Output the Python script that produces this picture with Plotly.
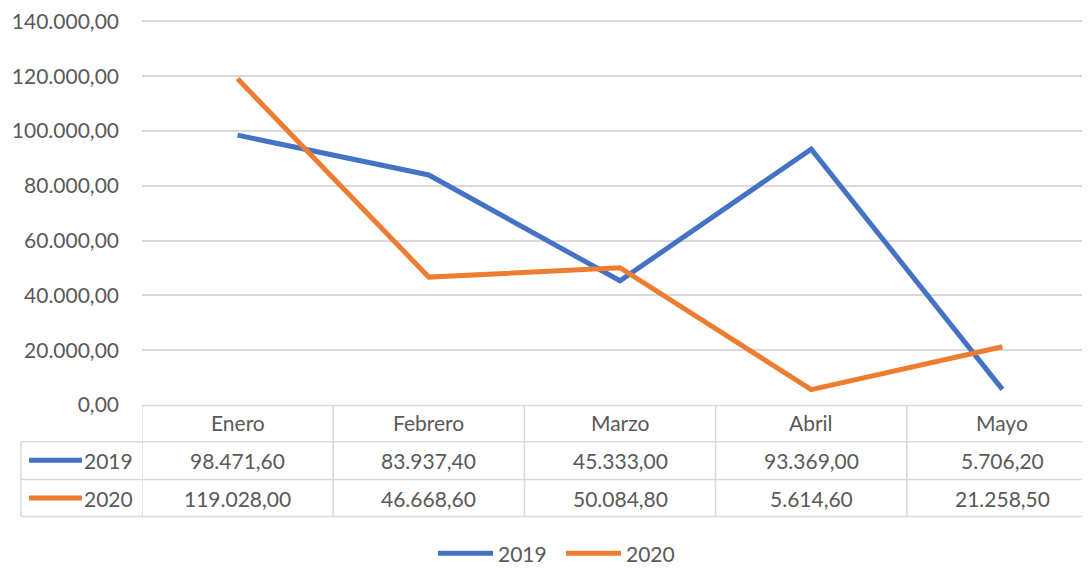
import plotly.graph_objects as go

# Datos (tabla de datos del grafico)
MESES = ["Enero", "Febrero", "Marzo", "Abril", "Mayo"]
SERIES = ["2019", "2020"]
VALORES_2019 = [98471.60, 83937.40, 45333.00, 93369.00, 5706.20]
VALORES_2020 = [119028.00, 46668.60, 50084.80, 5614.60, 21258.50]
Y_TICKS = [0, 20000, 40000, 60000, 80000, 100000, 120000, 140000]

AZUL = "#4472C4"
NARANJA = "#ED7D31"
TINTA = "#595959"
REJILLA = "#d9d9d9"
FUENTE = "Lato, 'Open Sans', sans-serif"
TAM = 21

# la pagina deja 8 px de margen (body), se compensa aqui
OFF = 8
W, H = 1090 - OFF, 568 - OFF
L, R, T, B = 142 - OFF, 0, 18 - OFF, 163


def px_x(px):
    # px en pixeles de la pagina
    return (px - OFF - L) / (W - L - R)


def px_y(py):
    return (H - B - (py - OFF)) / (H - T - B)


def fmt(v):
    s = f"{v:,.2f}"
    return s.replace(",", "_").replace(".", ",").replace("_", ".")


fig = go.Figure()
for nombre, vals, color in [(SERIES[0], VALORES_2019, AZUL), (SERIES[1], VALORES_2020, NARANJA)]:
    fig.add_trace(go.Scatter(x=MESES, y=vals, name=nombre, mode="lines",
                             line=dict(color=color, width=5), showlegend=False))

shapes = []
annots = []
linea = dict(color=REJILLA, width=1.5)

# lineas horizontales de la tabla
shapes.append(dict(type="line", xref="paper", yref="paper", x0=0, x1=1,
                   y0=px_y(405.5), y1=px_y(405.5), line=linea))
for py in [442, 480, 517]:
    shapes.append(dict(type="line", xref="paper", yref="paper", x0=px_x(21), x1=1,
                       y0=px_y(py), y1=px_y(py), line=linea))
# verticales
shapes.append(dict(type="line", xref="paper", yref="paper", x0=px_x(21), x1=px_x(21),
                   y0=px_y(442), y1=px_y(517), line=linea))
for i in range(len(MESES)):
    shapes.append(dict(type="line", xref="x", yref="paper", x0=i - 0.5, x1=i - 0.5,
                       y0=px_y(405.5), y1=px_y(517), line=linea))

# cabecera de meses
for i, m in enumerate(MESES):
    annots.append(dict(x=i, y=px_y(423), xref="x", yref="paper", text=m,
                       showarrow=False, yanchor="middle"))

# filas de valores
filas = [(SERIES[0], VALORES_2019, AZUL, 460.5), (SERIES[1], VALORES_2020, NARANJA, 498.5)]
for nombre, vals, color, py in filas:
    shapes.append(dict(type="line", xref="paper", yref="paper", x0=px_x(29), x1=px_x(82),
                       y0=px_y(py), y1=px_y(py), line=dict(color=color, width=5)))
    annots.append(dict(x=px_x(135), y=px_y(py), xref="paper", yref="paper", text=nombre,
                       showarrow=False, xanchor="right", yanchor="middle"))
    for i, v in enumerate(vals):
        annots.append(dict(x=i, y=px_y(py), xref="x", yref="paper", text=fmt(v),
                           showarrow=False, yanchor="middle"))

# leyenda inferior
for nombre, color, x0 in [(SERIES[0], AZUL, 438), (SERIES[1], NARANJA, 566)]:
    shapes.append(dict(type="line", xref="paper", yref="paper", x0=px_x(x0), x1=px_x(x0 + 55),
                       y0=px_y(554), y1=px_y(554), line=dict(color=color, width=5)))
    annots.append(dict(x=px_x(x0 + 58), y=px_y(554), xref="paper", yref="paper", text=nombre,
                       showarrow=False, xanchor="left", yanchor="middle"))

fig.update_layout(
    width=W, height=H,
    margin=dict(l=L, r=R, t=T, b=B),
    paper_bgcolor="white", plot_bgcolor="white",
    font=dict(family=FUENTE, size=TAM, color=TINTA),
    separators=",.",
    shapes=shapes, annotations=annots,
    xaxis=dict(range=[-0.5, -0.5 + (W - L - R) / 191.2], showticklabels=False,
               showgrid=False, zeroline=False, showline=False, fixedrange=True),
    yaxis=dict(range=[0, 140500], tickvals=Y_TICKS, tickformat=",.2f",
               gridcolor=REJILLA, gridwidth=1.5, zeroline=False, showline=False,
               ticklabelstandoff=22, ticklabeloverflow="allow", fixedrange=True),
)

fig.write_html("out.html")
